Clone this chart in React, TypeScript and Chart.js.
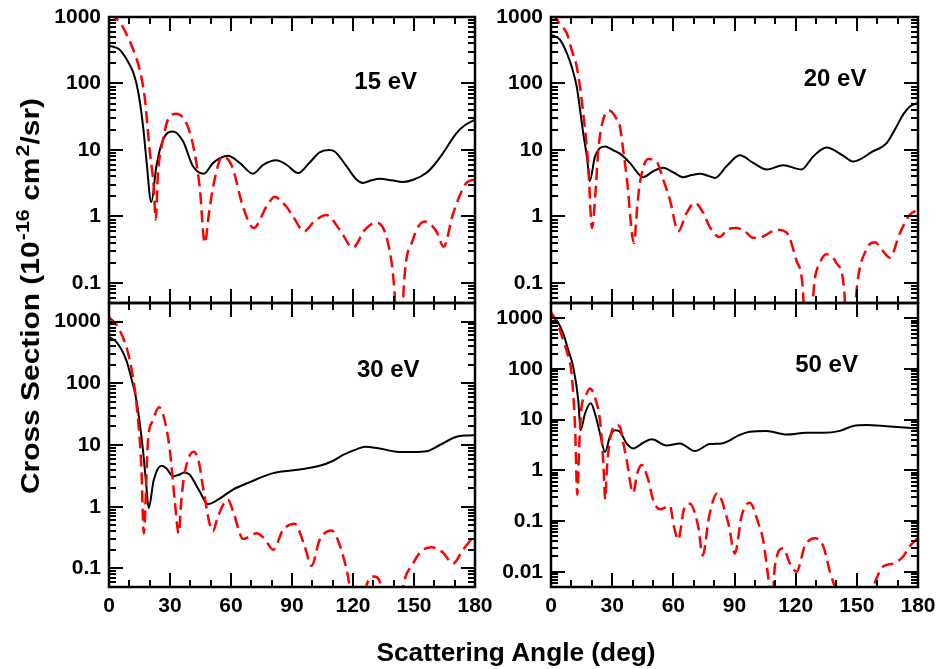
import React, { useEffect, useRef } from 'react';
import { Chart, registerables } from 'chart.js';

Chart.register(...registerables);

const FONT = '"Liberation Sans", Arial, Helvetica, sans-serif';
const W = 943;
const H = 669;

// ---------------- data ----------------
const xTickValues = [0, 30, 60, 90, 120, 150, 180];
const yTicksTop = [0.1, 1, 10, 100, 1000];
const yTicksBottomLeft = [0.1, 1, 10, 100, 1000];
const yTicksBottomRight = [0.01, 0.1, 1, 10, 100, 1000];
const energyLabels = ['15 eV', '20 eV', '30 eV', '50 eV'];

// 15 eV
const angles15Solid = [0, 3, 5.3, 8, 10.2, 11.8, 13.5, 15.1, 16.8, 18.4, 20.8, 23.3, 26.6, 31.5, 36.4, 41.3, 46.6, 51.2, 58.5, 64.3, 70.8, 75.9, 82.3, 87.3, 93, 98.7, 103.6, 108, 111, 116.8, 121.7, 124.9, 129, 133.2, 139, 144.6, 150, 156, 160, 164.3, 170.9, 175, 180];
const values15Solid = [370, 350, 322, 250, 190, 150, 100, 55, 22, 7.1, 1.65, 5.7, 14.3, 19, 13.5, 5.7, 4.4, 6.4, 8.2, 6.4, 4.4, 6.0, 7.0, 6.0, 4.5, 6.5, 9.2, 10, 9.5, 5.7, 3.6, 3.2, 3.5, 3.7, 3.5, 3.3, 3.6, 4.5, 6, 9, 18, 23.5, 28.6];
const angles15Dashed = [0, 3.3, 6.9, 8.5, 11.8, 15.1, 17.5, 20, 22, 23, 24.1, 26.6, 29, 33.2, 38, 41.3, 44.6, 47.1, 49.2, 51.2, 55.8, 60.5, 65.9, 71.2, 77.4, 81.5, 87.3, 90.5, 96, 101, 107, 113.5, 120, 125.8, 131.5, 137.2, 140.2, 143, 145, 149.5, 155.3, 161, 164.6, 169.2, 175.8, 180];
const values15Dashed = [1150, 970, 700, 560, 330, 160, 64, 10, 2.8, 0.9, 4.5, 14.3, 28.6, 35, 25.5, 12, 2.8, 0.4, 1.13, 2.8, 8.0, 5.7, 1.4, 0.67, 1.4, 1.96, 1.4, 1.0, 0.6, 0.85, 1.05, 0.63, 0.34, 0.63, 0.81, 0.4, 0.09, 0.003, 0.09, 0.45, 0.84, 0.6, 0.35, 1.1, 3.2, 3.6];

// 20 eV
const angles20Solid = [0, 4.4, 7.7, 10.1, 12.6, 15.8, 17.8, 19, 21.6, 26.5, 30.3, 33.8, 38.7, 45.2, 50.2, 55, 60, 64.8, 69, 73, 77, 80.4, 86.1, 92.6, 99.2, 105.7, 113.9, 122.9, 128.6, 135.1, 143.3, 148.2, 157.8, 164.6, 169.5, 172.7, 176, 180];
const values20Solid = [540, 456, 288, 181, 90, 18, 7.1, 3.4, 8, 11.3, 10, 8.8, 6.4, 3.9, 4.8, 5.4, 4.6, 3.9, 4.2, 4.4, 4.1, 3.8, 5.7, 8.3, 6.4, 5.1, 5.9, 5.1, 8.0, 10.9, 8.2, 6.7, 9.5, 12.7, 22.6, 34, 45, 51];
const angles20Dashed = [0, 2.5, 4.4, 7.7, 10.1, 12.6, 15.8, 18.3, 20.1, 22, 23.2, 25.6, 28.9, 32, 33.8, 35.4, 37.1, 40.7, 42.3, 43.6, 47.7, 51.8, 55, 58.3, 62.4, 66.5, 70.6, 74.7, 77.7, 82.6, 87, 90.9, 95.1, 99, 104, 110.5, 115.4, 120.3, 123.4, 126, 129, 131.9, 135.1, 140, 143.6, 146.5, 150.1, 154.7, 158.8, 162.9, 166.2, 171.1, 176, 180];
const values20Dashed = [1050, 960, 766, 574, 322, 181, 36, 5.7, 0.67, 2.8, 10, 28.6, 39, 30, 22.6, 10, 4, 0.4, 1.4, 3.2, 7.3, 6.7, 3.6, 1.8, 0.6, 1.13, 1.6, 1.13, 0.71, 0.49, 0.65, 0.67, 0.6, 0.48, 0.5, 0.63, 0.58, 0.22, 0.09, 0.003, 0.09, 0.2, 0.27, 0.2, 0.09, 0.003, 0.09, 0.32, 0.41, 0.3, 0.24, 0.56, 1.06, 1.26];

// 30 eV
const angles30Solid = [0, 3.6, 8.5, 11, 13.5, 16.7, 18.4, 19.5, 22, 25.8, 28.2, 31.5, 34.5, 37.2, 39.7, 44.6, 48.7, 53.6, 61, 69.2, 80.7, 93.8, 103.6, 110, 115.1, 121.7, 125.8, 133, 141.4, 150, 156.1, 162.7, 170.9, 176, 180];
const values30Solid = [560, 468, 237, 120, 53, 8.3, 2.1, 0.95, 2.7, 4.6, 4.2, 3.1, 3.3, 3.6, 3.3, 1.76, 1.1, 1.3, 1.9, 2.5, 3.5, 4.0, 4.6, 5.5, 6.9, 8.5, 9.4, 8.8, 7.8, 7.7, 7.9, 10, 13.6, 14.3, 14.5];
const angles30Dashed = [0, 5.3, 10.2, 13.5, 15.9, 17.1, 19.2, 21.6, 24.6, 27.4, 29.9, 32.3, 34.3, 35.6, 37.2, 41.7, 44.3, 46.2, 51.1, 53.6, 58.5, 61, 66, 72.5, 76.6, 80.7, 85.6, 91.3, 96.2, 99.6, 103.6, 109.4, 115.1, 118.4, 122.5, 126.5, 130.2, 134, 139.5, 144.6, 149.5, 153.6, 158.6, 164.3, 169.2, 174.1, 180];
const values30Dashed = [1190, 724, 237, 47, 4.5, 0.37, 12, 25, 41, 25, 8.3, 1.3, 0.37, 1.3, 3.5, 7.8, 5.1, 2.1, 0.4, 0.7, 1.3, 0.85, 0.3, 0.37, 0.3, 0.2, 0.42, 0.53, 0.23, 0.11, 0.29, 0.41, 0.16, 0.05, 0.003, 0.05, 0.074, 0.05, 0.002, 0.05, 0.12, 0.19, 0.22, 0.18, 0.12, 0.2, 0.35];

// 50 eV
const angles50Solid = [0, 2.8, 6, 8.5, 10.9, 13.4, 14.5, 16.7, 19.5, 22, 24, 26.5, 28.9, 31.4, 33.8, 37.1, 40.3, 45.2, 49.4, 56.7, 63.2, 70.6, 77.9, 83.7, 92.6, 97.5, 105.7, 115.5, 125.3, 133.5, 141.7, 148.2, 154.8, 164.6, 180];
const values50Solid = [1200, 912, 500, 234, 110, 24, 6.2, 13.3, 21, 11.4, 5.4, 2.3, 4.6, 6.2, 5.8, 3.4, 2.7, 3.5, 4.1, 3.1, 3.4, 2.4, 3.3, 3.4, 5.0, 5.8, 6.0, 5.1, 5.5, 5.5, 6.0, 7.5, 7.8, 7.4, 6.7];
const angles50Dashed = [0, 3, 6, 8.5, 10.1, 11.8, 12.9, 13.9, 15, 16.7, 19.1, 22, 24, 25.6, 26.6, 27.4, 28.9, 32.2, 33.8, 35.4, 37.1, 40.3, 42.3, 44.5, 47.7, 50.1, 53.4, 58.3, 60.3, 62.4, 65.2, 68.1, 72.2, 74.4, 77.6, 81.5, 86.9, 90.2, 93.5, 97.5, 101.6, 104, 106.5, 108.3, 109.8, 113.9, 117.2, 120.4, 124.5, 129.4, 133.5, 136.8, 139.2, 148, 158, 162.9, 167.8, 172.7, 176, 180];
const values50Dashed = [1330, 800, 369, 173, 81, 7.2, 0.33, 3.5, 18, 28, 41, 24, 9.8, 1.6, 0.27, 1.05, 4.0, 7.8, 7.2, 3.6, 1.6, 0.36, 0.87, 1.28, 0.65, 0.26, 0.17, 0.2, 0.078, 0.043, 0.17, 0.22, 0.078, 0.021, 0.127, 0.35, 0.093, 0.023, 0.127, 0.23, 0.093, 0.043, 0.008, 0.002, 0.0127, 0.029, 0.0145, 0.01, 0.032, 0.046, 0.032, 0.01, 0.005, 0.0003, 0.005, 0.0127, 0.0145, 0.02, 0.032, 0.046];

// ---------------- layout ----------------
type Area = { left: number; top: number; right: number; bottom: number };
type PanelCfg = {
  label: string;
  area: Area;
  yMin: number;
  yMax: number;
  yTicks: number[];
  showX: boolean;
  solid: [number[], number[]];
  dashed: [number[], number[]];
  labelAt: [number, number];
};

const panels: PanelCfg[] = [
  { label: energyLabels[0], area: { left: 109, top: 17, right: 475, bottom: 303 }, yMin: 0.05, yMax: 1000, yTicks: yTicksTop, showX: false, solid: [angles15Solid, values15Solid], dashed: [angles15Dashed, values15Dashed], labelAt: [0.756, 0.22] },
  { label: energyLabels[1], area: { left: 551, top: 17, right: 918, bottom: 303 }, yMin: 0.05, yMax: 1000, yTicks: yTicksTop, showX: false, solid: [angles20Solid, values20Solid], dashed: [angles20Dashed, values20Dashed], labelAt: [0.774, 0.2115] },
  { label: energyLabels[2], area: { left: 109, top: 303, right: 475, bottom: 587 }, yMin: 0.05, yMax: 2000, yTicks: yTicksBottomLeft, showX: true, solid: [angles30Solid, values30Solid], dashed: [angles30Dashed, values30Dashed], labelAt: [0.763, 0.229] },
  { label: energyLabels[3], area: { left: 551, top: 303, right: 918, bottom: 587 }, yMin: 0.005, yMax: 2000, yTicks: yTicksBottomRight, showX: true, solid: [angles50Solid, values50Solid], dashed: [angles50Dashed, values50Dashed], labelAt: [0.751, 0.212] },
];

const Y_W = 70;
const X_H = 40;

function toPoints(a: number[], v: number[]) {
  return a.map((x, i) => ({ x, y: v[i] }));
}

const framePlugin = {
  id: 'panelFrame',
  afterDatasetsDraw(chart: any, _args: any, opts: any) {
    const { ctx, chartArea } = chart;
    const { left, right, top, bottom } = chartArea;
    const xs = chart.scales.x;
    const ys = chart.scales.y;
    ctx.save();
    ctx.strokeStyle = '#000';
    ctx.lineWidth = 2;
    ctx.beginPath();
    for (let a = 0; a <= 180; a += 10) {
      const px = Math.round(xs.getPixelForValue(a));
      const len = a % 30 === 0 ? 14 : 7;
      ctx.moveTo(px, bottom);
      ctx.lineTo(px, bottom - len);
      ctx.moveTo(px, top);
      ctx.lineTo(px, top + len);
    }
    const eMin = Math.floor(Math.log10(ys.min)) - 1;
    const eMax = Math.ceil(Math.log10(ys.max)) + 1;
    for (let e = eMin; e <= eMax; e++) {
      for (let m = 1; m <= 9; m++) {
        const v = Number((m * Math.pow(10, e)).toPrecision(6));
        if (v < ys.min * 0.999 || v > ys.max * 1.001) continue;
        const py = Math.round(ys.getPixelForValue(v));
        const len = m === 1 ? 14 : 7;
        ctx.moveTo(left, py);
        ctx.lineTo(left + len, py);
        ctx.moveTo(right, py);
        ctx.lineTo(right - len, py);
      }
    }
    ctx.stroke();
    ctx.lineWidth = 2.5;
    ctx.strokeRect(left, top, right - left, bottom - top);
    ctx.fillStyle = '#000';
    ctx.font = `bold 24px ${FONT}`;
    ctx.textAlign = 'center';
    ctx.textBaseline = 'alphabetic';
    const cx = left + opts.fx * (right - left);
    const cy = top + opts.fy * (bottom - top);
    ctx.fillText(opts.text, cx, cy + 0.358 * 24);
    ctx.restore();
  },
};

function makeConfig(p: PanelCfg): any {
  const xh = p.showX ? X_H : 0;
  const tickFont = { family: FONT, size: 21, weight: 'bold' as const };
  return {
    type: 'line',
    data: {
      datasets: [
        {
          data: toPoints(p.dashed[0], p.dashed[1]),
          borderColor: '#ff0000',
          borderWidth: 2.5,
          borderDash: [12, 6],
          pointRadius: 0,
          cubicInterpolationMode: 'monotone',
          fill: false,
        },
        {
          data: toPoints(p.solid[0], p.solid[1]),
          borderColor: '#000000',
          borderWidth: 2,
          pointRadius: 0,
          cubicInterpolationMode: 'monotone',
          fill: false,
        },
      ],
    },
    options: {
      responsive: false,
      animation: false,
      events: [],
      layout: {
        padding: {
          left: p.area.left - Y_W,
          top: p.area.top,
          right: W - p.area.right,
          bottom: H - p.area.bottom - xh,
        },
      },
      plugins: {
        legend: { display: false },
        tooltip: { enabled: false },
        title: { display: false },
        panelFrame: { text: p.label, fx: p.labelAt[0], fy: p.labelAt[1] },
      },
      scales: {
        x: {
          type: 'linear',
          position: 'bottom',
          min: 0,
          max: 180,
          afterBuildTicks: (s: any) => {
            s.ticks = xTickValues.map((v) => ({ value: v }));
          },
          ticks: {
            display: p.showX,
            autoSkip: false,
            maxRotation: 0,
            padding: 7,
            color: '#000',
            font: tickFont,
          },
          grid: { display: false, drawTicks: false },
          border: { display: false },
          afterFit: (s: any) => {
            s.height = xh;
            s.paddingLeft = 0;
            s.paddingRight = 0;
          },
        },
        y: {
          type: 'logarithmic',
          position: 'left',
          min: p.yMin,
          max: p.yMax,
          afterBuildTicks: (s: any) => {
            s.ticks = p.yTicks.map((v) => ({ value: v }));
          },
          ticks: {
            autoSkip: false,
            padding: 8,
            color: '#000',
            font: tickFont,
            callback: (v: any) => String(v),
          },
          grid: { display: false, drawTicks: false },
          border: { display: false },
          afterFit: (s: any) => {
            s.width = Y_W;
            s.paddingTop = 0;
            s.paddingBottom = 0;
          },
        },
      },
    },
    plugins: [framePlugin],
  };
}

function Panel({ cfg }: { cfg: PanelCfg }) {
  const ref = useRef<HTMLCanvasElement>(null);
  useEffect(() => {
    if (!ref.current) return;
    const chart = new Chart(ref.current, makeConfig(cfg));
    return () => chart.destroy();
  }, [cfg]);
  return (
    <canvas
      ref={ref}
      width={W}
      height={H}
      style={{ position: 'absolute', left: 0, top: 0, width: W, height: H }}
    />
  );
}

const supStyle: React.CSSProperties = { fontSize: '0.72em', verticalAlign: '0.55em', lineHeight: 0, marginLeft: 1 };

export default function App() {
  return (
    <div style={{ position: 'absolute', left: 0, top: 0, width: W, height: H, background: '#fff', overflow: 'hidden' }}>
      {panels.map((p) => (
        <Panel key={p.label} cfg={p} />
      ))}
      <div
        style={{
          position: 'absolute',
          left: 30,
          top: 296,
          transform: 'translate(-50%, -50%) rotate(-90deg) scaleX(1.15)',
          font: `bold 26px ${FONT}`,
          whiteSpace: 'nowrap',
          color: '#000',
          lineHeight: 1,
        }}
      >
        Cross Section (10<sup style={supStyle}>-16</sup> cm<sup style={supStyle}>2</sup>/sr)
      </div>
      <div
        style={{
          position: 'absolute',
          left: 516,
          top: 652,
          transform: 'translate(-50%, -50%) scaleX(1.05)',
          font: `bold 25px ${FONT}`,
          whiteSpace: 'nowrap',
          color: '#000',
          lineHeight: 1,
        }}
      >
        Scattering Angle (deg)
      </div>
    </div>
  );
}
